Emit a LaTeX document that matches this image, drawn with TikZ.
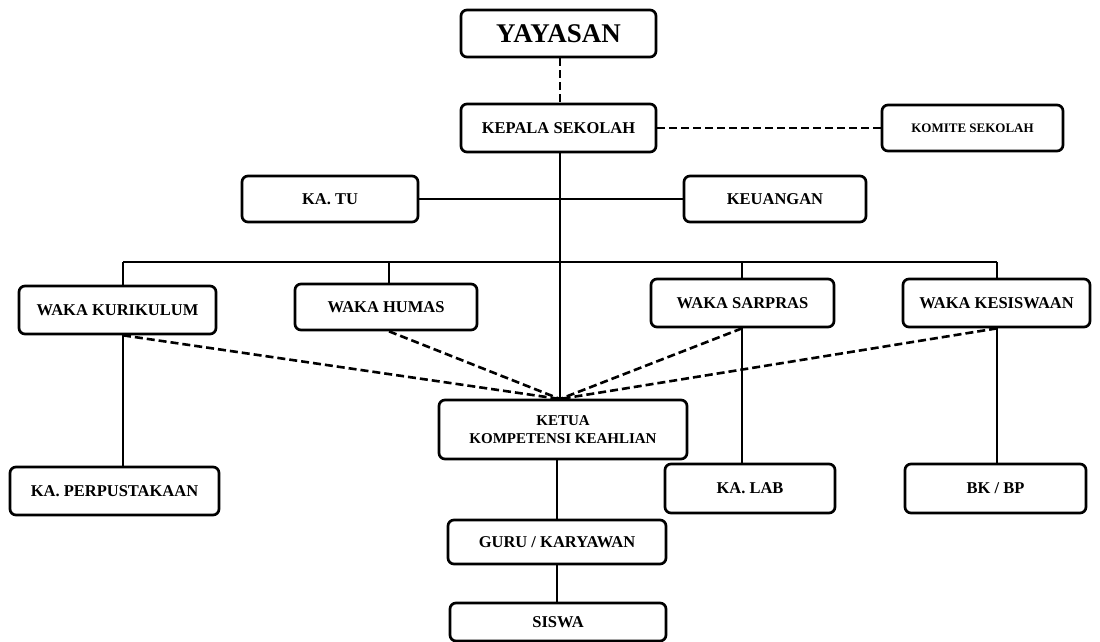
\documentclass[tikz,border=0pt]{standalone}
\usepackage{fontspec}
\setmainfont{Liberation Serif}
\begin{document}
\begin{tikzpicture}[x=1pt,y=-1pt,
  box/.style={draw, line width=2.7pt, rounded corners=6pt, inner sep=0pt, align=center,
    font=\bfseries\fontsize{16.5}{18}\selectfont},
  conn/.style={line width=2.6pt},
  dconn/.style={line width=2.6pt, dash pattern=on 8pt off 4pt}]
\useasboundingbox (0,0) rectangle (1100,642);
% nodes
\node[box, minimum width=195pt, minimum height=47pt, font=\bfseries\fontsize{27}{30}\selectfont] (yay) at (558.5,33.5) {YAYASAN};
\node[box, minimum width=195pt, minimum height=48pt] (kep) at (558.5,128) {KEPALA SEKOLAH};
\node[box, minimum width=181pt, minimum height=46pt, font=\bfseries\fontsize{13}{15}\selectfont] (kom) at (972.5,128) {KOMITE SEKOLAH};
\node[box, minimum width=176pt, minimum height=46pt] (katu) at (330,199) {KA. TU};
\node[box, minimum width=182pt, minimum height=46pt] (keu) at (775,199) {KEUANGAN};
\node[box, minimum width=197pt, minimum height=48pt] (wkur) at (117.5,310) {WAKA KURIKULUM};
\node[box, minimum width=182pt, minimum height=46pt] (whum) at (386,307) {WAKA HUMAS};
\node[box, minimum width=183pt, minimum height=48pt] (wsar) at (742.5,303) {WAKA SARPRAS};
\node[box, minimum width=187pt, minimum height=48pt] (wkes) at (996.5,303) {WAKA KESISWAAN};
\node[box, minimum width=248pt, minimum height=59pt, font=\bfseries\fontsize{15}{18}\selectfont] (ketua) at (563,429.5) {KETUA\\KOMPETENSI KEAHLIAN};
\node[box, minimum width=209pt, minimum height=48pt] (kaperp) at (114.5,491) {KA. PERPUSTAKAAN};
\node[box, minimum width=170pt, minimum height=49pt] (kalab) at (750,488.5) {KA. LAB};
\node[box, minimum width=181pt, minimum height=49pt] (bkbp) at (995.5,488.5) {BK / BP};
\node[box, minimum width=218pt, minimum height=44pt] (guru) at (557,542) {GURU / KARYAWAN};
\node[box, minimum width=216pt, minimum height=38pt] (siswa) at (558,622) {SISWA};
% coordinates for stems
\coordinate (sK) at (123,262);
\coordinate (sH) at (389,262);
\coordinate (sM) at (560,262);
\coordinate (sS) at (742,262);
\coordinate (sE) at (997,262);
\coordinate (conv) at (560,399);
% connectors
\draw[dconn] (yay.south -| sM) -- (kep.north -| sM);
\draw[dconn] (kep.east) -- (kom.west);
\draw[conn] (kep.south -| sM) -- (ketua.north -| sM);
\draw[conn] (katu.east) -- (keu.west);
\draw[conn] (sK) -- (sE);
\draw[conn] (sK) -- (wkur.north -| sK);
\draw[conn] (sH) -- (whum.north -| sH);
\draw[conn] (sS) -- (wsar.north -| sS);
\draw[conn] (sE) -- (wkes.north -| sE);
\draw[conn] (wkur.south -| sK) -- (kaperp.north -| sK);
\draw[conn] (wsar.south -| sS) -- (kalab.north -| sS);
\draw[conn] (wkes.south -| sE) -- (bkbp.north -| sE);
\draw[dconn] (wkur.south -| sK) -- (conv);
\draw[dconn] (whum.south -| sH) -- (conv);
\draw[dconn] (wsar.south -| sS) -- (conv);
\draw[dconn] (wkes.south -| sE) -- (conv);
\draw[conn] (ketua.south -| guru.north) -- (guru.north);
\draw[conn] (guru.south) -- (guru.south |- siswa.north);
\end{tikzpicture}
\end{document}
